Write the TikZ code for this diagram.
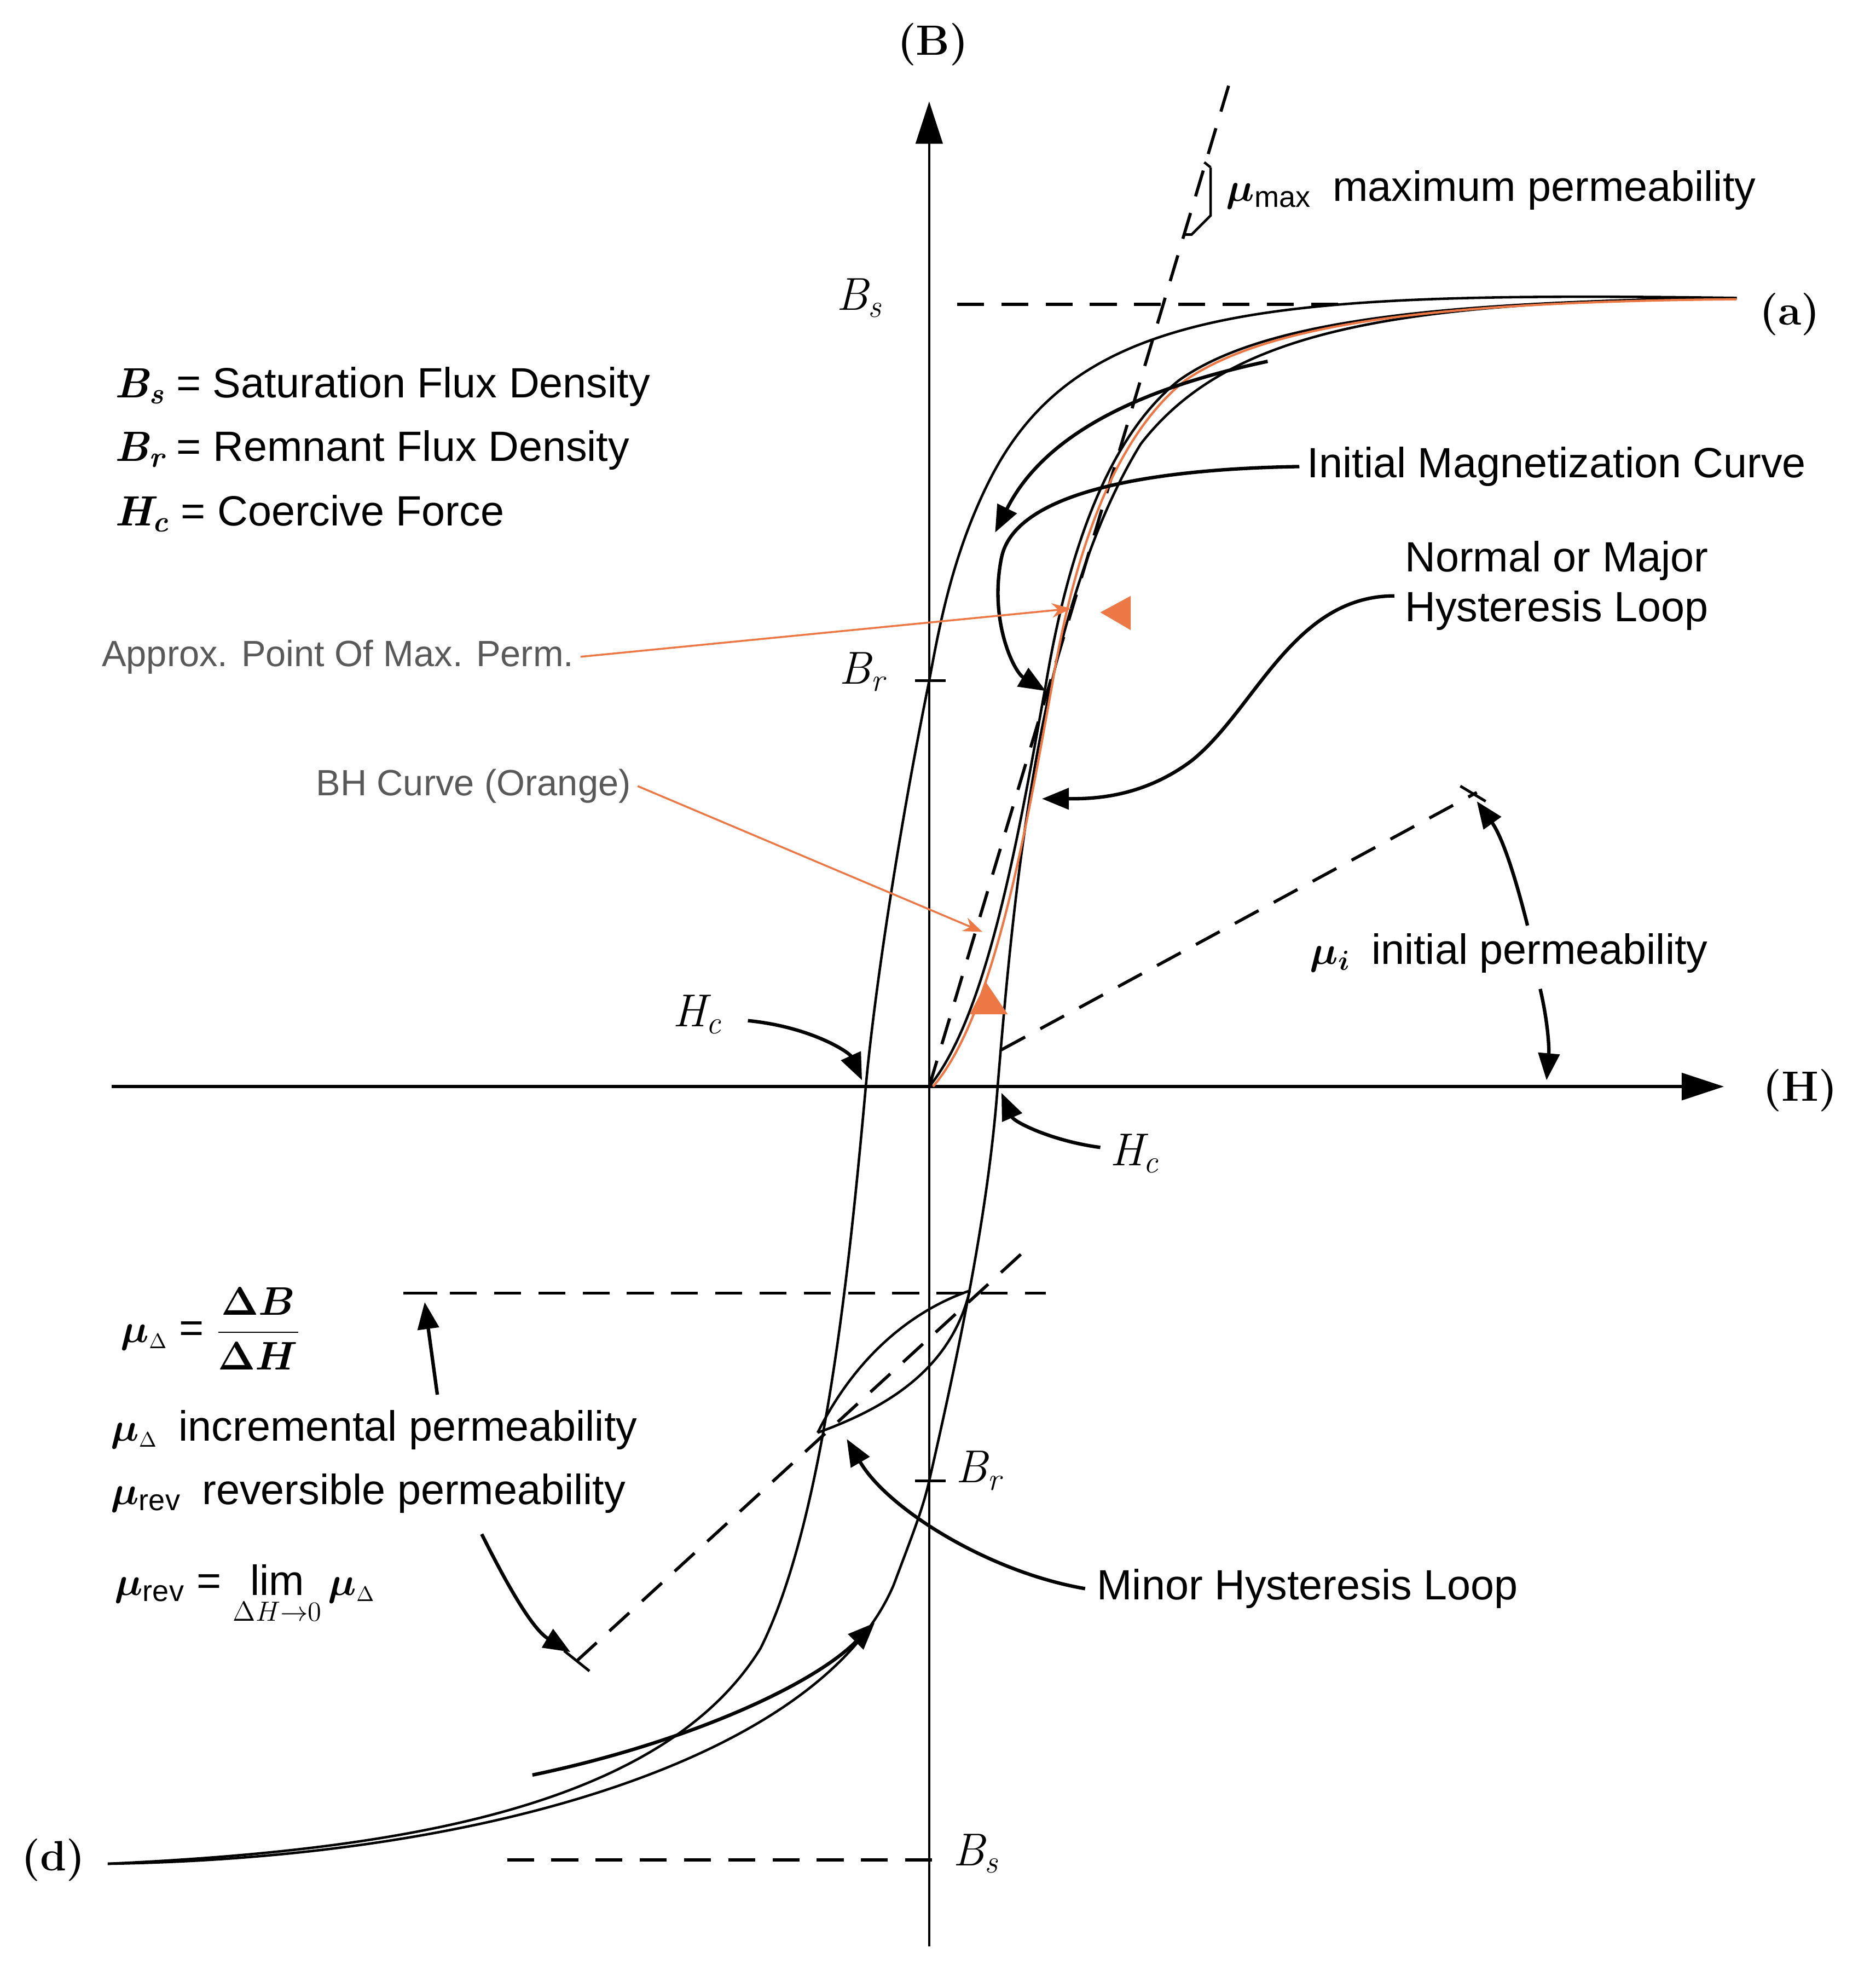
\documentclass[tikz,border=0pt]{standalone}
\usepackage{amsmath}
\usepackage{bm}
\usepackage{fontspec}
\setmainfont{Liberation Sans}
\newfontfamily\serif{Latin Modern Roman}
\usetikzlibrary{arrows.meta}
\definecolor{org}{RGB}{236,120,70}
\newcommand{\mym}{\ensuremath{\bm{\mu}}}
\begin{document}
\begin{tikzpicture}[x=0.02316cm,y=-0.02316cm,
  crv/.style={line width=1.3pt},
  dsh/.style={line width=1.6pt,dash pattern=on 14pt off 9pt},
  arr/.style={line width=1.8pt,-{Triangle[length=14pt,width=11pt]}},
  lbl/.style={font=\fontsize{22}{26}\selectfont},
  glbl/.style={font=\fontsize{19}{22}\selectfont,text=black!65},
  ser/.style={font=\serif\fontsize{22}{26}\selectfont\bfseries},
  sit/.style={font=\serif\itshape\fontsize{24}{28}\selectfont},
  oarr/.style={org,line width=1pt,-{Stealth[length=10pt]}}]
\useasboundingbox (0,0) rectangle (1475,1568);
% axes
\draw[line width=1.2pt,-{Triangle[length=22pt,width=14pt]}] (733,1535) -- (733,80);
\draw[line width=1.6pt,-{Triangle[length=22pt,width=14pt]}] (88,857) -- (1360,857);
\node[ser] (B) at (736,35) {(B)};
\node[ser] (H) at (1420,860) {(H)};
\node[ser] (a) at (1412,248) {(a)};
\node[ser] (d) at (42,1467) {(d)};
% dashed lines
\draw[dsh] (755,240) -- (1060,240);
\draw[dsh] (400,1467) -- (745,1467);
\draw[dsh] (320,1020) -- (825,1020);
\draw[dsh] (733,857) -- (970,65);
\draw[dsh] (455,1310) -- (810,985);
\draw[dsh] (790,828) -- (1165,625);
\draw[line width=1.4pt] (1152,620) -- (1172,632);
\draw[line width=1.4pt] (445,1302) -- (465,1318);
\draw[line width=1.4pt] (318,1020) -- (345,1020);
% ticks
\draw[line width=1.4pt] (722,537) -- (746,537);
\draw[line width=1.4pt] (722,1168) -- (746,1168);
% major loop
\draw[crv] (1370,235) .. controls (1000,230) and (850,240) .. (780,380)
  .. controls (750,440) and (740,500) .. (733,537)
  .. controls (710,650) and (690,780) .. (683,857)
  .. controls (670,1000) and (650,1200) .. (600,1300)
  .. controls (520,1430) and (300,1460) .. (85,1470);
\draw[crv] (85,1470) .. controls (400,1465) and (650,1380) .. (705,1250)
  .. controls (720,1210) and (728,1190) .. (733,1168)
  .. controls (760,1050) and (780,950) .. (787,857)
  .. controls (800,700) and (820,480) .. (900,350)
  .. controls (970,260) and (1100,238) .. (1370,235);
% initial curve
\draw[crv] (733,857) .. controls (780,800) and (805,650) .. (825,540)
  .. controls (845,420) and (880,340) .. (930,300)
  .. controls (1000,250) and (1150,238) .. (1370,235);
\draw[org,line width=1.2pt] (736,857) .. controls (785,800) and (810,650) .. (830,540)
  .. controls (850,420) and (885,340) .. (935,300)
  .. controls (1005,252) and (1150,238) .. (1370,236);
% minor loop
\draw[crv] (645,1130) .. controls (680,1060) and (730,1030) .. (765,1018);
\draw[crv] (645,1130) .. controls (700,1110) and (750,1080) .. (765,1018);
% labels left
\node[lbl,anchor=west] (l1) at (85,305) {{\serif\itshape\bfseries B\textsubscript{s}} = Saturation Flux Density};
\node[lbl,anchor=west] (l2) at (85,355) {{\serif\itshape\bfseries B\textsubscript{r}} = Remnant Flux Density};
\node[lbl,anchor=west] (l3) at (85,405) {{\serif\itshape\bfseries H\textsubscript{c}} = Coercive Force};
\node[sit] (bs1) at (678,235) {B\textsubscript{s}};
\node[sit] (br1) at (680,530) {B\textsubscript{r}};
\node[sit] (br2) at (772,1160) {B\textsubscript{r}};
\node[sit] (bs2) at (770,1462) {B\textsubscript{s}};
\node[sit] (hc1) at (550,800) {H\textsubscript{c}};
\node[sit] (hc2) at (895,910) {H\textsubscript{c}};
\draw[arr] (590,805) .. controls (640,810) and (670,830) .. (680,852);
\draw[arr] (868,905) .. controls (830,900) and (800,885) .. (790,862);
% mu max
\node[lbl,anchor=west] (mmax) at (962,150) {\mym\textsubscript{max}\enspace maximum permeability};
\draw[line width=1.3pt] (955,132) -- (955,170) -- (940,185) -- (935,185);
\draw[line width=1.3pt] (955,132) -- (950,128);
% right labels
\node[lbl,anchor=west] (imc) at (1026,368) {Initial Magnetization Curve};
\node[lbl,anchor=west,align=left] (nml) at (1103,462) {Normal or Major\\Hysteresis Loop};
\draw[arr] (1025,368) .. controls (900,370) and (800,390) .. (790,440) .. controls (780,490) and (800,530) .. (825,545);
\draw[arr] (1100,470) .. controls (1020,470) and (990,560) .. (940,600) .. controls (900,630) and (860,630) .. (822,630);
\node[lbl,anchor=west] (mui) at (1028,752) {\mym$_{\bm i}$\enspace initial permeability};
\draw[arr] (1205,730) .. controls (1195,690) and (1185,660) .. (1165,632);
\draw[arr] (1215,780) .. controls (1222,810) and (1222,830) .. (1220,852);
% orange
\node[glbl,anchor=east] (apx) at (458,518) {Approx. Point Of Max. Perm.};
\draw[oarr] (apx.east) -- (845,480);
\fill[org] (868,483) -- (892,470) -- (892,497) -- cycle;
\node[glbl,anchor=east] (bhc) at (503,620) {BH Curve (Orange)};
\draw[oarr] (bhc.east) -- (775,735);
\fill[org] (778,775) -- (765,800) -- (795,800) -- cycle;
% lower left
\node[lbl,anchor=west] (mud) at (90,1048) {\mym$_{\scriptscriptstyle\Delta}$ = $\displaystyle\frac{\bm{\Delta B}}{\bm{\Delta H}}$};
\node[lbl,anchor=west] (inc) at (82,1128) {\mym$_{\scriptscriptstyle\Delta}$\enspace incremental permeability};
\node[lbl,anchor=west] (rev) at (82,1178) {\mym\textsubscript{rev}\enspace reversible permeability};
\node[lbl,anchor=west] (lim) at (85,1258) {\mym\textsubscript{rev} = $\lim\limits_{\Delta H\to 0}\bm{\mu}_{\scriptscriptstyle\Delta}$};
\draw[arr] (345,1100) -- (335,1027);
\draw[arr] (380,1210) .. controls (400,1250) and (420,1285) .. (450,1303);
\node[lbl,anchor=west] (mhl) at (860,1253) {Minor Hysteresis Loop};
\draw[arr] (856,1253) .. controls (780,1240) and (700,1190) .. (668,1135);
% loop direction arrows
\draw[arr] (1000,285) .. controls (930,300) and (830,330) .. (785,420);
\draw[arr] (420,1400) .. controls (540,1375) and (640,1330) .. (690,1280);
\end{tikzpicture}
\end{document}
